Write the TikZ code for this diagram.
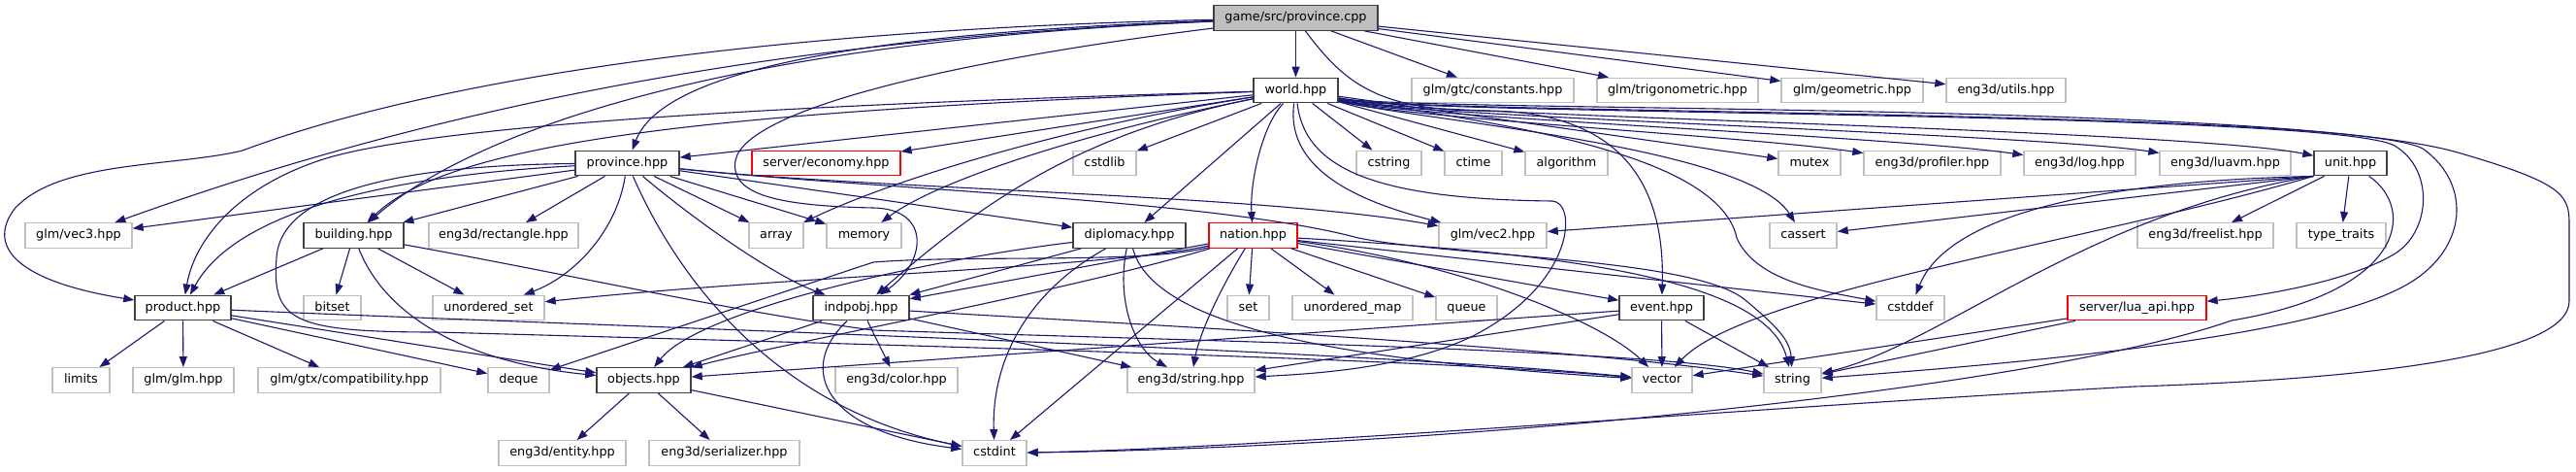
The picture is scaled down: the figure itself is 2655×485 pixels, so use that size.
\documentclass[tikz,border=0pt]{standalone}
\usepackage{fontspec}
\setmainfont{DejaVu Sans}
\usetikzlibrary{arrows.meta}
\definecolor{mblue}{HTML}{191970}
\definecolor{greyL}{HTML}{BFBFBF}
\definecolor{greyD}{HTML}{404040}
\begin{document}
\begin{tikzpicture}[x=1pt,y=-1pt,
  nbox/.style={draw, rectangle, inner sep=0pt, minimum height=25.5pt, line width=1.4pt,
    font=\fontsize{12.8pt}{15pt}\selectfont, text height=9.6pt, text depth=2.8pt, text=black},
  bw/.style={minimum width=#1 pt},
  gnode/.style={nbox, draw=greyL},
  bnode/.style={nbox, draw=greyD},
  rnode/.style={nbox, draw=red, line width=1.2pt},
  rootnode/.style={nbox, draw=greyD, fill=greyL},
  dep/.style={draw=mblue, line width=1.1pt, -{Triangle[length=11pt,width=8pt]}},
]
\fill[white] (0,0) rectangle (2655,485);
\useasboundingbox (0,0) rectangle (2655,485);

% ---------- nodes ----------
\node[rootnode, bw=169] (pc) at (1335.5,18.5) {game/src/province.cpp};

\node[bnode, bw=87]  (world)     at (1335.5,93) {world.hpp};
\node[gnode, bw=167] (constants) at (1538.5,93) {glm/gtc/constants.hpp};
\node[gnode, bw=166] (trig)      at (1729,93)   {glm/trigonometric.hpp};
\node[gnode, bw=146] (geom)      at (1909,93)   {glm/geometric.hpp};
\node[gnode, bw=123] (utils)     at (2067.5,93) {eng3d/utils.hpp};

\node[bnode, bw=107] (prov)      at (646.5,168)  {province.hpp};
\node[rnode, bw=153] (econ)      at (851.5,168)  {server/economy.hpp};
\node[gnode, bw=65]  (cstdlib)   at (1138.5,168) {cstdlib};
\node[gnode, bw=67]  (cstring)   at (1431.5,168) {cstring};
\node[gnode, bw=59]  (ctime)     at (1518.5,168) {ctime};
\node[gnode, bw=85]  (algorithm) at (1614.5,168) {algorithm};
\node[gnode, bw=64]  (mutex)     at (1865,168)   {mutex};
\node[gnode, bw=141] (profiler)  at (1991.5,168) {eng3d/profiler.hpp};
\node[gnode, bw=115] (log)       at (2143.5,168) {eng3d/log.hpp};
\node[gnode, bw=135] (luavm)     at (2293.5,168) {eng3d/luavm.hpp};
\node[bnode, bw=75]  (unit)      at (2422.5,168) {unit.hpp};

\node[gnode, bw=110] (vec3)       at (81,242.5)     {glm/vec3.hpp};
\node[bnode, bw=103] (building)   at (364.5,242.5)  {building.hpp};
\node[gnode, bw=154] (rect)       at (519,242.5)    {eng3d/rectangle.hpp};
\node[gnode, bw=56]  (array)      at (800,242.5)    {array};
\node[gnode, bw=77]  (memory)     at (890.5,242.5)  {memory};
\node[bnode, bw=116] (dipl)       at (1164,242.5)   {diplomacy.hpp};
\node[rnode, bw=91]  (nation)     at (1291.5,242.5) {nation.hpp};
\node[gnode, bw=111] (vec2)       at (1538.5,242.5) {glm/vec2.hpp};
\node[gnode, bw=69]  (cassert)    at (1858.5,242.5) {cassert};
\node[gnode, bw=140] (freelist)   at (2273,242.5)   {eng3d/freelist.hpp};
\node[gnode, bw=92]  (typetraits) at (2413,242.5)   {type\_traits};

\node[bnode, bw=99]  (product) at (188.5,317)  {product.hpp};
\node[gnode, bw=59]  (bitset)  at (342.5,317)  {bitset};
\node[gnode, bw=115] (uset)    at (503.5,317)  {unordered\_set};
\node[bnode, bw=99]  (indpobj) at (887.5,317)  {indpobj.hpp};
\node[gnode, bw=43]  (set)     at (1286.5,317) {set};
\node[gnode, bw=124] (umap)    at (1394,317)   {unordered\_map};
\node[gnode, bw=63]  (queue)   at (1511.5,317) {queue};
\node[bnode, bw=87]  (event)   at (1712.5,317) {event.hpp};
\node[gnode, bw=70]  (cstddef) at (1969,317)   {cstddef};
\node[rnode, bw=143] (luaapi)  at (2202.5,317) {server/lua\_api.hpp};

\node[gnode, bw=59]  (limits)  at (83.5,391.5)   {limits};
\node[gnode, bw=104] (glmglm)  at (189,391.5)    {glm/glm.hpp};
\node[gnode, bw=188] (compat)  at (360,391.5)    {glm/gtx/compatibility.hpp};
\node[gnode, bw=63]  (deque)   at (534.5,391.5)  {deque};
\node[bnode, bw=97]  (objects) at (663.5,391.5)  {objects.hpp};
\node[gnode, bw=126] (color)   at (924,391.5)    {eng3d/color.hpp};
\node[gnode, bw=131] (estring) at (1227.5,391.5) {eng3d/string.hpp};
\node[gnode, bw=62]  (vector)  at (1713,391.5)   {vector};
\node[gnode, bw=59]  (string)  at (1847.5,391.5) {string};

\node[gnode, bw=131] (entity)     at (579.5,466.5) {eng3d/entity.hpp};
\node[gnode, bw=155] (serializer) at (746.5,466.5) {eng3d/serializer.hpp};
\node[gnode, bw=66]  (cstdint)    at (1025,466.5)  {cstdint};

% ---------- edges: game/src/province.cpp ----------
\draw[dep] (pc) -- (world);
\draw[dep] (pc) -- (constants);
\draw[dep] (pc) -- (trig);
\draw[dep] (pc) -- (geom);
\draw[dep] (pc) -- (utils);
\draw[dep] (pc) .. controls (850,35) and (680,80) .. (prov);
\draw[dep] (pc) .. controls (700,45) and (470,150) .. (building);
\draw[dep] (pc) .. controls (800,40) and (450,110) .. (vec3);
\draw[dep] (pc) .. controls (800,30) and (450,80) .. (250,155)
  .. controls (180,172) and (60,165) .. (15,215)
  .. controls (-15,255) and (20,290) .. (product);
\draw[dep] (pc) .. controls (1000,60) and (770,110) .. (758,165)
  .. controls (752,200) and (800,212) .. (900,214)
  .. controls (960,215) and (955,270) .. (indpobj);
\draw[dep] (pc) .. controls (1385,85) and (1420,114) .. (1530,114)
  .. controls (1680,114) and (1716,200) .. (event);

% ---------- edges: world.hpp ----------
\draw[dep] (world) -- (prov);
\draw[dep] (world) -- (econ);
\draw[dep] (world) -- (cstdlib);
\draw[dep] (world) -- (cstring);
\draw[dep] (world) -- (ctime);
\draw[dep] (world) -- (algorithm);
\draw[dep] (world) -- (mutex);
\draw[dep] (world) .. controls (1450,122) and (1800,140) .. (profiler);
\draw[dep] (world) .. controls (1450,121) and (1950,140) .. (log);
\draw[dep] (world) .. controls (1450,120) and (2100,138) .. (luavm);
\draw[dep] (world) .. controls (1450,119) and (2250,133) .. (unit);
\draw[dep] (world) .. controls (700,115) and (460,150) .. (building);
\draw[dep] (world) .. controls (900,105) and (450,125) .. (330,165)
  .. controls (240,195) and (200,250) .. (product);
\draw[dep] (world) .. controls (1100,130) and (920,185) .. (array);
\draw[dep] (world) .. controls (1100,140) and (960,190) .. (memory);
\draw[dep] (world) -- (dipl);
\draw[dep] (world) .. controls (1300,130) and (1288,190) .. (nation);
\draw[dep] (world) .. controls (1100,140) and (1000,220) .. (indpobj);
\draw[dep] (world) .. controls (1325,170) and (1390,205) .. (vec2);
\draw[dep] (world) .. controls (1460,124) and (1800,150) .. (cassert);
\draw[dep] (world) .. controls (1500,122) and (1770,150) .. (1790,245)
  .. controls (1810,290) and (1880,300) .. (cstddef);
\draw[dep] (world) .. controls (1460,118) and (2420,112) .. (2497,153)
  .. controls (2550,190) and (2545,265) .. (2467,300)
  .. controls (2350,355) and (2000,380) .. (string);
\draw[dep] (world) .. controls (1460,119) and (2400,114) .. (2468,150)
  .. controls (2510,175) and (2505,240) .. (2467,262)
  .. controls (2420,290) and (2330,305) .. (luaapi);
\draw[dep] (world) .. controls (1460,116) and (2350,104) .. (2533,157)
  .. controls (2640,188) and (2648,200) .. (2648,230) -- (2648,310)
  .. controls (2648,365) and (2450,390) .. (2200,398)
  .. controls (1800,420) and (1300,462) .. (cstdint);
\draw[dep] (world) .. controls (1345,175) and (1420,205) .. (1600,207)
  .. controls (1625,208) and (1625,290) .. (1520,345)
  .. controls (1450,380) and (1350,385) .. (estring);

% ---------- edges: province.hpp ----------
\draw[dep] (prov) -- (vec3);
\draw[dep] (prov) -- (building);
\draw[dep] (prov) .. controls (450,178) and (250,205) .. (product);
\draw[dep] (prov) -- (rect);
\draw[dep] (prov) .. controls (635,240) and (590,285) .. (uset);
\draw[dep] (prov) -- (array);
\draw[dep] (prov) -- (memory);
\draw[dep] (prov) .. controls (720,230) and (800,285) .. (indpobj);
\draw[dep] (prov) .. controls (700,290) and (800,420) .. (cstdint);
\draw[dep] (prov) -- (dipl);
\draw[dep] (prov) .. controls (900,195) and (1300,200) .. (vec2);
\draw[dep] (prov) .. controls (900,195) and (1250,205) .. (1400,245)
  .. controls (1500,265) and (1750,265) .. (1800,310)
  .. controls (1830,335) and (1845,350) .. (string);
\draw[dep] (prov) .. controls (420,170) and (290,195) .. (285,265)
  .. controls (280,330) and (300,342) .. (450,342)
  .. controls (1100,360) and (1500,372) .. (vector);

% ---------- edges: building.hpp ----------
\draw[dep] (building) -- (product);
\draw[dep] (building) -- (bitset);
\draw[dep] (building) -- (uset);
\draw[dep] (building) .. controls (395,320) and (470,372) .. (objects);
\draw[dep] (building) .. controls (600,285) and (750,320) .. (900,340)
  .. controls (1200,350) and (1700,360) .. (string);

% ---------- edges: product.hpp ----------
\draw[dep] (product) -- (limits);
\draw[dep] (product) -- (glmglm);
\draw[dep] (product) -- (compat);
\draw[dep] (product) -- (deque);
\draw[dep] (product) -- (objects);
\draw[dep] (product) .. controls (600,335) and (1400,360) .. (vector);

% ---------- edges: indpobj.hpp ----------
\draw[dep] (indpobj) -- (objects);
\draw[dep] (indpobj) -- (color);
\draw[dep] (indpobj) -- (estring);
\draw[dep] (indpobj) .. controls (820,380) and (850,445) .. (cstdint);
\draw[dep] (indpobj) .. controls (1100,330) and (1600,355) .. (string);

% ---------- edges: diplomacy.hpp ----------
\draw[dep] (dipl) -- (indpobj);
\draw[dep] (dipl) .. controls (950,268) and (720,320) .. (objects);
\draw[dep] (dipl) .. controls (1060,300) and (1022,370) .. (cstdint);
\draw[dep] (dipl) .. controls (1150,310) and (1170,360) .. (estring);
\draw[dep] (dipl) .. controls (1190,340) and (1400,372) .. (vector);

% ---------- edges: nation.hpp ----------
\draw[dep] (nation) -- (set);
\draw[dep] (nation) -- (umap);
\draw[dep] (nation) -- (queue);
\draw[dep] (nation) -- (event);
\draw[dep] (nation) -- (cstdint);
\draw[dep] (nation) .. controls (1250,310) and (1235,350) .. (estring);
\draw[dep] (nation) -- (indpobj);
\draw[dep] (nation) .. controls (1100,300) and (800,355) .. (objects);
\draw[dep] (nation) .. controls (1150,275) and (800,285) .. (uset);
\draw[dep] (nation) .. controls (1180,272) and (1000,262) .. (900,270) -- (deque);
\draw[dep] (nation) -- (cstddef);
\draw[dep] (nation) .. controls (1500,270) and (1650,330) .. (vector);
\draw[dep] (nation) .. controls (1600,260) and (1820,285) .. (string);

% ---------- edges: event.hpp ----------
\draw[dep] (event) -- (vector);
\draw[dep] (event) -- (string);
\draw[dep] (event) -- (estring);
\draw[dep] (event) -- (objects);

% ---------- edges: unit.hpp ----------
\draw[dep] (unit) -- (freelist);
\draw[dep] (unit) -- (typetraits);
\draw[dep] (unit.south west) -- (vec2);
\draw[dep] (unit.south west) -- (cassert);
\draw[dep] (unit.south west) .. controls (2100,188) and (2000,240) .. (cstddef);
\draw[dep] (unit.south west) .. controls (2150,220) and (2000,355) .. (string);
\draw[dep] (unit.south west) .. controls (2150,250) and (1800,300) .. (vector);
\draw[dep] (unit) .. controls (2490,215) and (2480,300) .. (2300,330)
  .. controls (2100,400) and (1500,460) .. (cstdint);

% ---------- edges: server/lua_api.hpp ----------
\draw[dep] (luaapi) -- (string);
\draw[dep] (luaapi) -- (vector);

% ---------- edges: objects.hpp ----------
\draw[dep] (objects) -- (entity);
\draw[dep] (objects) -- (serializer);
\draw[dep] (objects) -- (cstdint);
\end{tikzpicture}
\end{document}
